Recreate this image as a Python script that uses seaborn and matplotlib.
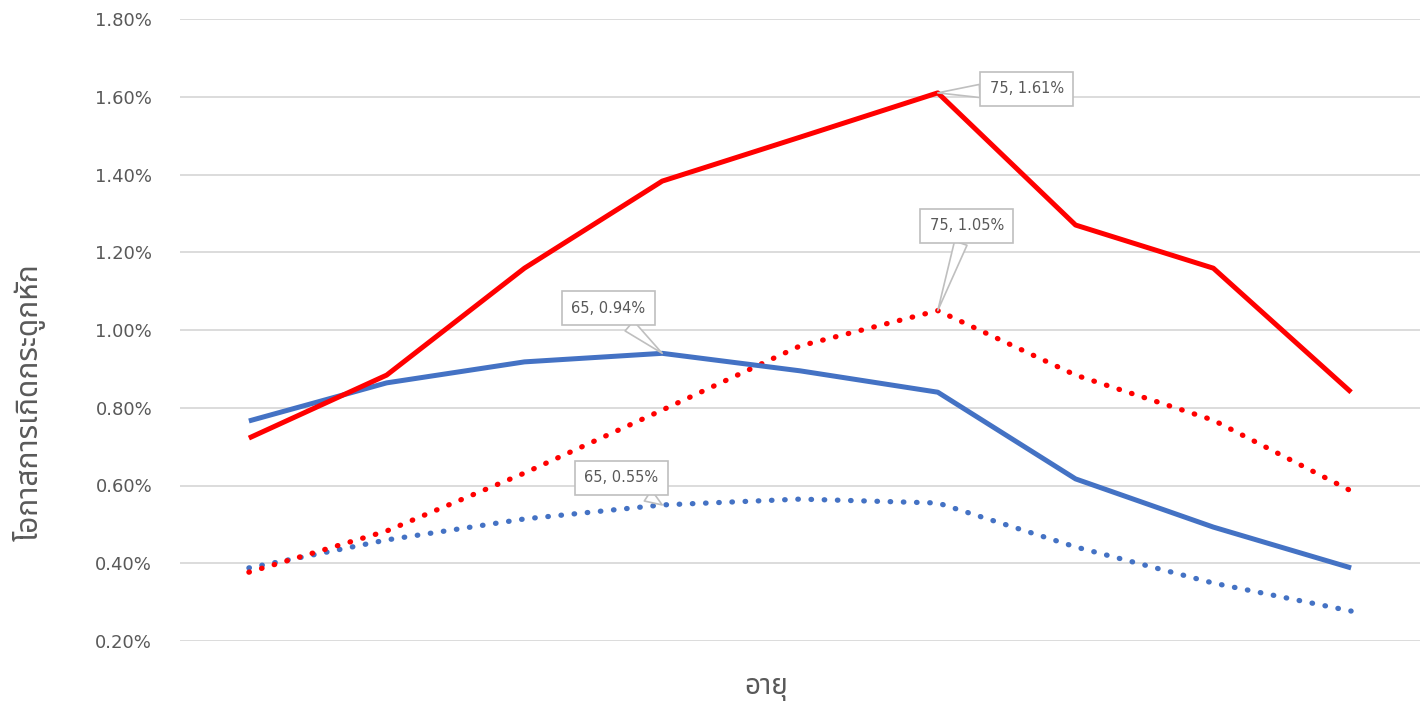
import matplotlib
matplotlib.use("Agg")
import matplotlib.pyplot as plt
from matplotlib import font_manager
from matplotlib.ticker import FuncFormatter, FixedLocator
import seaborn as sns
import pandas as pd

ages = [50, 55, 60, 65, 70, 75, 80, 85, 90]
red_solid = [0.722, 0.884, 1.159, 1.383, 1.496, 1.61, 1.270, 1.159, 0.840]
red_dotted = [0.377, 0.483, 0.632, 0.794, 0.959, 1.05, 0.884, 0.768, 0.586]
blue_solid = [0.766, 0.864, 0.918, 0.94, 0.895, 0.840, 0.617, 0.493, 0.388]
blue_dotted = [0.388, 0.460, 0.514, 0.55, 0.565, 0.555, 0.442, 0.349, 0.277]
y_ticks = [0.2, 0.4, 0.6, 0.8, 1.0, 1.2, 1.4, 1.6, 1.8]
x_label = "อายุ"
y_label = "โอกาสการเกิดกระดูกหัก"


def find_thai_font():
    try:
        from fontTools.ttLib import TTFont
    except Exception:
        TTFont = None
    preferred = ["Noto Sans Thai", "Noto Sans Thai UI", "Noto Sans Thai Looped",
                 "Leelawadee UI", "Tahoma", "Sarabun", "Loma", "Garuda",
                 "Norasi", "Kinnari", "Waree", "Umpush", "Laksaman", "TH Sarabun New"]
    names = {f.name: f.fname for f in font_manager.fontManager.ttflist}
    for p in preferred:
        if p in names:
            return p
    if TTFont is not None:
        for f in font_manager.fontManager.ttflist:
            try:
                tt = TTFont(f.fname, fontNumber=0, lazy=True)
                cmap = tt.getBestCmap()
                if cmap and 0x0E2D in cmap and 0x0E32 in cmap:
                    return f.name
            except Exception:
                continue
    return None


sns.set_theme(style="white")
thai = find_thai_font()
fam = [thai, "DejaVu Sans"] if thai else ["DejaVu Sans"]
plt.rcParams["font.family"] = fam

df = pd.DataFrame({"age": ages, "rs": red_solid, "rd": red_dotted,
                   "bs": blue_solid, "bd": blue_dotted})

fig = plt.figure(figsize=(14.2, 7.07), dpi=100)
ax = fig.add_axes([180 / 1420, 66 / 707, 1 - 180 / 1420, (641 - 19) / 707])

RED = "#FF0000"
BLUE = "#4472C4"
dots = (0, (0.1, 2.4))
sns.lineplot(data=df, x="age", y="bd", ax=ax, color=BLUE, lw=3.8,
             linestyle=dots, zorder=3)
sns.lineplot(data=df, x="age", y="rd", ax=ax, color=RED, lw=3.8,
             linestyle=dots, zorder=3)
sns.lineplot(data=df, x="age", y="bs", ax=ax, color=BLUE, lw=3.6, zorder=4,
             solid_capstyle="butt")
sns.lineplot(data=df, x="age", y="rs", ax=ax, color=RED, lw=3.6, zorder=5,
             solid_capstyle="butt")
for line in ax.lines[:2]:
    line.set_dash_capstyle("round")

ax.set_xlim(47.5, 92.5)
ax.set_ylim(0.2, 1.8)
ax.yaxis.set_major_locator(FixedLocator(y_ticks))
ax.yaxis.set_major_formatter(FuncFormatter(lambda v, p: f"{v:.2f}%"))
ax.set_xticks([])
ax.grid(axis="y", color="#d9d9d9", lw=1.3)
ax.set_axisbelow(True)
for s in ax.spines.values():
    s.set_visible(False)
ax.tick_params(axis="y", length=0, pad=20, labelsize=13, labelcolor="#595959")
for t in ax.get_yticklabels():
    t.set_fontfamily(["DejaVu Sans"])
ax.set_xlabel(x_label, fontsize=20, color="#595959")
ax.xaxis.set_label_coords(0.473, -0.052)
ax.set_ylabel(y_label, fontsize=21.5, color="#595959")
ax.yaxis.set_label_coords(-0.108, 0.384)


def callout(xv, yv, dx, dy):
    ax.annotate(f"{xv}, {yv:.2f}%", xy=(xv, yv), xytext=(dx, dy),
                textcoords="offset pixels", ha="center", va="center",
                fontsize=10.5, color="#595959", family=["DejaVu Sans"],
                bbox=dict(boxstyle="square,pad=0.65", fc="white", ec="#bfbfbf", lw=1.2),
                arrowprops=dict(arrowstyle="wedge,tail_width=0.9,shrink_factor=0.5",
                                fc="white", ec="#bfbfbf", lw=1.2,
                                shrinkA=0, shrinkB=0),
                zorder=10)


callout(ages[3], blue_solid[3], -54, 45)
callout(ages[3], blue_dotted[3], -41, 27)
callout(ages[5], red_solid[5], 89, 4)
callout(ages[5], red_dotted[5], 29, 85)

fig.savefig("out.png", dpi=100)
